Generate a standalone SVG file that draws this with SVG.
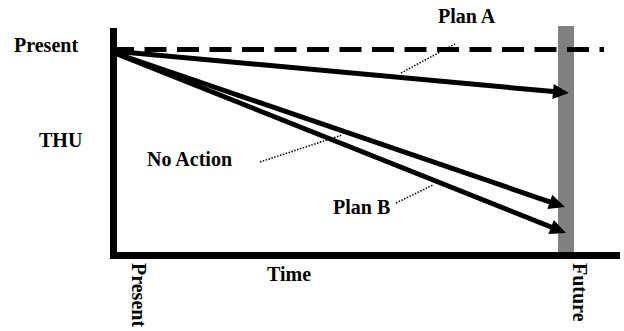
<svg xmlns="http://www.w3.org/2000/svg" width="624" height="331" viewBox="0 0 624 331">
<style>
text{font-family:"Liberation Serif","Times New Roman",serif;font-weight:bold;font-size:20px;fill:#000}
.arrow{stroke:#000;stroke-width:5;fill:none;marker-end:url(#head)}
.leader{stroke:#000;stroke-width:1.5;stroke-dasharray:1.5 1.5;fill:none}
</style>
<defs>
<marker id="head" markerUnits="userSpaceOnUse" markerWidth="16" markerHeight="15" refX="6" refY="7.5" orient="auto" overflow="visible">
<path d="M0,0 L16,7.5 L0,15 Z" fill="#000"/>
</marker>
</defs>
<rect x="0" y="0" width="624" height="331" fill="#fff"/>
<g id="future-bar"><rect x="558" y="26" width="16" height="226" fill="#808080"/></g>
<g id="axes">
<rect x="110" y="28" width="7" height="231" fill="#000"/>
<rect x="110" y="252" width="510" height="7" fill="#000"/>
</g>
<g id="present-level"><line x1="112" y1="49.5" x2="604" y2="49.5" stroke="#000" stroke-width="5" stroke-dasharray="22 10.5"/></g>
<g id="connectors">
<line class="arrow" x1="112" y1="51" x2="559" y2="92.1"/>
<line class="arrow" x1="112" y1="52" x2="555.5" y2="203.8"/>
<line class="arrow" x1="112" y1="52" x2="556.7" y2="229.3"/>
<line class="leader" x1="401" y1="73" x2="455" y2="44"/>
<line class="leader" x1="260" y1="162" x2="342" y2="135"/>
<line class="leader" x1="396" y1="203" x2="433" y2="185"/>
</g>
<g id="labels">
<text x="14" y="52">Present</text>
<text x="39" y="147">THU</text>
<text x="147" y="166">No Action</text>
<text x="438" y="23">Plan A</text>
<text x="333" y="214">Plan B</text>
<text x="267" y="281">Time</text>
<text transform="translate(132,263) rotate(90)">Present</text>
<text transform="translate(573,263) rotate(90)">Future</text>
</g>
</svg>
